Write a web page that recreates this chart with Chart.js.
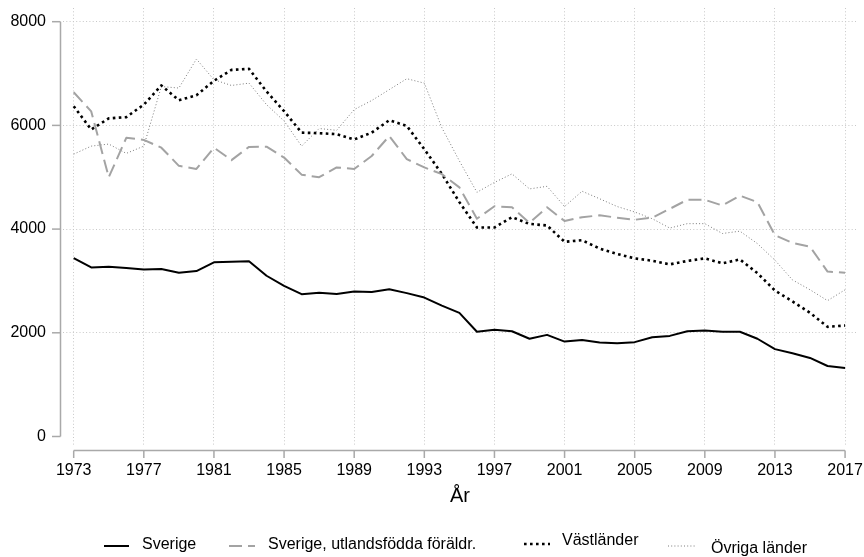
<!DOCTYPE html>
<html>
<head>
<meta charset="utf-8">
<script src="https://cdn.jsdelivr.net/npm/chart.js@4.4.1/dist/chart.umd.min.js"></script>
<style>
  html, body { margin: 0; padding: 0; background: #ffffff; }
  #wrap { width: 864px; height: 557px; position: relative; }
</style>
</head>
<body>
<div id="wrap"><canvas id="c" width="864" height="557"></canvas></div>
<script>
const years = [1973,1974,1975,1976,1977,1978,1979,1980,1981,1982,1983,1984,1985,1986,1987,1988,1989,1990,1991,1992,1993,1994,1995,1996,1997,1998,1999,2000,2001,2002,2003,2004,2005,2006,2007,2008,2009,2010,2011,2012,2013,2014,2015,2016,2017];

const sverige = [3440,3260,3275,3250,3220,3230,3160,3190,3360,3370,3380,3100,2905,2745,2770,2750,2795,2785,2840,2765,2680,2525,2385,2020,2060,2030,1885,1960,1830,1860,1815,1800,1820,1915,1940,2030,2045,2020,2020,1885,1685,1605,1515,1360,1320];

const sverigeUtl = [6640,6270,5000,5760,5720,5570,5220,5160,5570,5330,5585,5590,5380,5050,5000,5190,5160,5410,5795,5350,5190,5060,4805,4200,4440,4420,4120,4420,4155,4230,4265,4220,4180,4220,4390,4565,4565,4455,4645,4520,3880,3735,3660,3180,3160];

const vastlander = [6370,5920,6135,6160,6400,6770,6485,6580,6860,7070,7090,6655,6275,5860,5850,5830,5730,5860,6100,5990,5540,5065,4520,4030,4030,4230,4100,4070,3755,3785,3625,3520,3435,3390,3320,3385,3435,3340,3415,3150,2815,2605,2385,2115,2140];

const ovriga = [5445,5600,5640,5460,5600,6750,6720,7280,6880,6770,6815,6400,6085,5600,5940,5905,6305,6480,6690,6900,6815,5955,5315,4710,4900,5065,4775,4825,4435,4730,4585,4435,4330,4200,4020,4105,4105,3915,3960,3720,3400,3020,2830,2620,2830];

const seriesNames = ["Sverige", "Sverige, utlandsfödda föräldr.", "Västländer", "Övriga länder"];
const xTicks = [1973,1977,1981,1985,1989,1993,1997,2001,2005,2009,2013,2017];
const yTicks = [0,2000,4000,6000,8000];
const xTitle = "År";

const FONT = "'Liberation Sans', Arial, Helvetica, sans-serif";
const AXIS_COLOR = "#a9a9a9";
const GRID_COLOR = "#c8c8c8";

function pts(vals) { return years.map((y, i) => ({ x: y, y: vals[i] })); }

const datasets = [
  { label: seriesNames[0], data: pts(sverige), borderColor: "#000000", borderWidth: 2, borderDash: [], order: 1 },
  { label: seriesNames[1], data: pts(sverigeUtl), borderColor: "#a3a3a3", borderWidth: 2, borderDash: [13, 6], order: 2 },
  { label: seriesNames[2], data: pts(vastlander), borderColor: "#000000", borderWidth: 2.6, borderDash: [2.6, 3.4], order: 3 },
  { label: seriesNames[3], data: pts(ovriga), borderColor: "#7a7a7a", borderWidth: 1, borderDash: [1, 2.2], order: 4 }
].map(d => Object.assign(d, { fill: false, pointRadius: 0, pointHoverRadius: 0, tension: 0, borderCapStyle: 'butt', borderJoinStyle: 'round' }));

const customAxes = {
  id: 'customAxes',
  afterDraw(chart) {
    const ctx = chart.ctx;
    const xs = chart.scales.x, ys = chart.scales.y;
    ctx.save();
    ctx.strokeStyle = AXIS_COLOR;
    ctx.lineWidth = 1.5;
    ctx.setLineDash([]);
    const yAxX = 60.5;
    ctx.beginPath();
    ctx.moveTo(yAxX, ys.getPixelForValue(yTicks[yTicks.length - 1]));
    ctx.lineTo(yAxX, ys.getPixelForValue(yTicks[0]));
    ctx.stroke();
    yTicks.forEach(v => {
      const py = ys.getPixelForValue(v);
      ctx.beginPath(); ctx.moveTo(52, py); ctx.lineTo(yAxX, py); ctx.stroke();
    });
    const xAxY = 450.5;
    ctx.beginPath();
    ctx.moveTo(xs.getPixelForValue(xTicks[0]), xAxY);
    ctx.lineTo(xs.getPixelForValue(xTicks[xTicks.length - 1]), xAxY);
    ctx.stroke();
    xTicks.forEach(v => {
      const px = xs.getPixelForValue(v);
      ctx.beginPath(); ctx.moveTo(px, xAxY); ctx.lineTo(px, 458); ctx.stroke();
    });
    ctx.fillStyle = "#000000";
    ctx.font = "20px " + FONT;
    ctx.textAlign = "center";
    ctx.textBaseline = "middle";
    ctx.fillText(xTitle, (chart.chartArea.left + chart.chartArea.right) / 2, 496);
    const legendPos = [
      { x0: 104, x1: 129, tx: 142, ty: 545, ly: 546 },
      { x0: 229, x1: 255, tx: 268, ty: 545, ly: 546 },
      { x0: 524, x1: 550, tx: 562, ty: 541, ly: 544 },
      { x0: 668, x1: 695, tx: 711, ty: 549, ly: 546 }
    ];
    ctx.font = "16px " + FONT;
    ctx.textAlign = "left";
    chart.data.datasets.forEach((ds, i) => {
      const p = legendPos[i];
      ctx.save();
      ctx.strokeStyle = ds.borderColor;
      ctx.lineWidth = ds.borderWidth;
      ctx.setLineDash(ds.borderDash || []);
      ctx.lineCap = 'butt';
      ctx.beginPath(); ctx.moveTo(p.x0, p.ly); ctx.lineTo(p.x1, p.ly); ctx.stroke();
      ctx.restore();
      ctx.fillStyle = "#000000";
      ctx.fillText(ds.label, p.tx, p.ty);
    });
    ctx.restore();
  }
};

function zeroPad(s) { s.paddingTop = 0; s.paddingBottom = 0; s.paddingLeft = 0; s.paddingRight = 0; }

new Chart(document.getElementById('c'), {
  type: 'line',
  data: { datasets },
  options: {
    responsive: false,
    animation: false,
    events: [],
    layout: { padding: { top: 8, right: 7, left: 0, bottom: 0 } },
    plugins: { legend: { display: false }, tooltip: { enabled: false }, title: { display: false } },
    scales: {
      x: {
        type: 'linear',
        min: 1972.39,
        max: 2017.68,
        afterBuildTicks: (s) => { s.ticks = xTicks.map(v => ({ value: v })); },
        afterFit: (s) => { s.height = 112; zeroPad(s); },
        border: { display: false, dash: [1, 2.3] },
        grid: { color: GRID_COLOR, lineWidth: 1, drawTicks: false },
        ticks: { color: "#000000", font: { family: FONT, size: 16 }, padding: 16, maxRotation: 0, autoSkip: false, callback: (v) => String(v) }
      },
      y: {
        type: 'linear',
        min: -164,
        max: 8264,
        afterBuildTicks: (s) => { s.ticks = yTicks.map(v => ({ value: v })); },
        afterFit: (s) => { s.width = 63; zeroPad(s); },
        border: { display: false, dash: [1, 2.3] },
        grid: { color: (c) => (c.tick && c.tick.value === 0) ? 'rgba(0,0,0,0)' : GRID_COLOR, lineWidth: 1, drawTicks: false },
        ticks: { color: "#000000", font: { family: FONT, size: 16 }, padding: 17, autoSkip: false, callback: (v) => String(v) }
      }
    }
  },
  plugins: [customAxes]
});
</script>
</body>
</html>
